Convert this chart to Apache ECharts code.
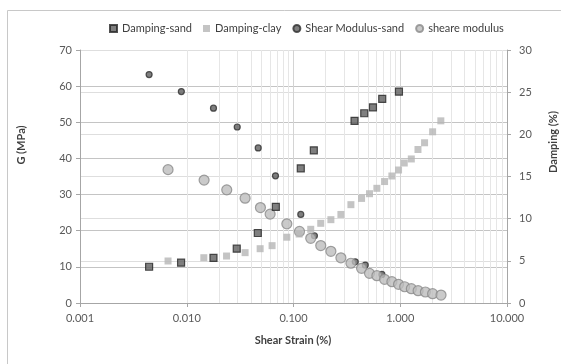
<!DOCTYPE html>
<html><head><meta charset="utf-8">
<script src="https://cdn.jsdelivr.net/npm/echarts@6/dist/echarts.min.js"></script>
<style>html,body{margin:0;padding:0;background:#fff}#c{width:561px;height:364px}</style>
</head><body><div id="c"></div>
<script>
// Damping (%) - right axis
const dampingSand = [[0.00444,4.3],[0.00885,4.78],[0.0178,5.34],[0.0294,6.44],[0.0463,8.3],[0.0683,11.4],[0.117,15.97],[0.155,18.1],[0.373,21.6],[0.46,22.5],[0.555,23.2],[0.678,24.2],[0.972,25.06]];
const dampingClay = [[0.00668,4.98],[0.01445,5.37],[0.0236,5.57],[0.0352,5.97],[0.0487,6.44],[0.063,6.8],[0.0866,7.8],[0.113,8.18],[0.145,8.74],[0.18,9.45],[0.224,9.88],[0.278,10.5],[0.345,11.66],[0.434,12.4],[0.515,12.96],[0.604,13.6],[0.713,14.4],[0.835,15.06],[0.964,15.77],[1.09,16.6],[1.27,17.08],[1.466,18.2],[1.69,19.0],[2.01,20.3],[2.40,21.6]];
// G (MPa) - left axis
const shearModulusSand = [[0.00444,63.2],[0.0089,58.5],[0.0178,53.9],[0.0297,48.7],[0.0467,42.9],[0.0678,35.2],[0.117,24.5],[0.157,18.6],[0.379,11.4],[0.47,10.5],[0.673,7.9]];
const shearModulusClay = [[0.00668,36.9],[0.01454,34.0],[0.0237,31.3],[0.0352,29.0],[0.049,26.4],[0.0604,24.6],[0.0866,21.9],[0.1138,19.8],[0.145,17.9],[0.18,15.9],[0.224,14.3],[0.278,12.5],[0.345,11.0],[0.434,9.6],[0.515,8.2],[0.604,7.55],[0.713,6.56],[0.835,5.9],[0.964,5.17],[1.1,4.5],[1.27,3.96],[1.47,3.4],[1.72,3.04],[2.01,2.57],[2.41,2.2]];
const seriesNames = ['Damping-sand','Damping-clay','Shear Modulus-sand','sheare modulus'];
const minorX = [0.002,0.003,0.004,0.005,0.006,0.007,0.008,0.009,0.02,0.03,0.04,0.05,0.06,0.07,0.08,0.09,0.2,0.3,0.4,0.5,0.6,0.7,0.8,0.9,2,3,4,5,6,7,8,9];

const FONT = 'Lato';
const chart = echarts.init(document.getElementById('c'), null, {renderer:'canvas'});
chart.setOption({
  animation:false,
  backgroundColor:'#fff',
  textStyle:{fontFamily:FONT},
  graphic:[
    {type:'rect', shape:{x:7.5,y:10.5,width:600,height:400}, style:{fill:'none',stroke:'#c8c8c8',lineWidth:1}, z:-10},
    {type:'text', x:21, y:145, rotation:Math.PI/2, style:{text:'G (MPa)', font:'bold 11px '+FONT, fill:'#404040', textAlign:'center', textVerticalAlign:'middle'}},
    {type:'text', x:553, y:142, rotation:Math.PI/2, style:{text:'Damping (%)', font:'bold 11px '+FONT, fill:'#404040', textAlign:'center', textVerticalAlign:'middle'}},
    {type:'text', x:293, y:340, style:{text:'Shear Strain (%)', font:'bold 11px '+FONT, fill:'#404040', textAlign:'center', textVerticalAlign:'middle'}}
  ],
  legend:{
    data:seriesNames, left:104, top:18, itemWidth:7, itemHeight:7, itemGap:11,
    textStyle:{fontSize:11, color:'#404040', fontFamily:FONT}
  },
  grid:{left:80, right:54, top:50, bottom:61},
  xAxis:{
    type:'log', logBase:10, min:0.001, max:10,
    axisLine:{show:true, onZero:false, lineStyle:{color:'#a6a6a6'}},
    axisTick:{show:true, inside:false, length:4, lineStyle:{color:'#a6a6a6'}},
    axisLabel:{margin:10, fontSize:11, color:'#595959', formatter:v=>Number(v).toFixed(3)},
    splitLine:{show:true, lineStyle:{color:'#d4d4d4'}}
  },
  yAxis:[
    {type:'value', min:0, max:70, interval:10, position:'left',
     axisLine:{show:true, lineStyle:{color:'#a6a6a6'}},
     axisTick:{show:true, length:4, lineStyle:{color:'#a6a6a6'}},
     axisLabel:{margin:8, fontSize:11, color:'#595959'},
     splitLine:{show:true, lineStyle:{color:'#c4c4c4'}}},
    {type:'value', min:0, max:30, interval:5, position:'right',
     axisLine:{show:true, lineStyle:{color:'#a6a6a6'}},
     axisTick:{show:true, length:4, lineStyle:{color:'#a6a6a6'}},
     axisLabel:{margin:12, fontSize:11, color:'#595959'},
     splitLine:{show:true, lineStyle:{color:'#dedede'}}}
  ],
  series:[
    {name:'minor', type:'scatter', data:[], z:1, silent:true, xAxisIndex:0, yAxisIndex:0,
     markLine:{silent:true, z:1, symbol:['none','none'], label:{show:false}, animation:false,
       lineStyle:{color:'#e6e6e6', width:1, type:'solid'},
       data:minorX.map(v=>({xAxis:v}))}},
    {name:'Shear Modulus-sand', type:'scatter', yAxisIndex:0, data:shearModulusSand, symbol:'circle', symbolSize:6, z:3,
     itemStyle:{color:'#5f5f5f', borderColor:'#2e2e2e', borderWidth:1.2}},
    {name:'sheare modulus', type:'scatter', yAxisIndex:0, data:shearModulusClay, symbol:'circle', symbolSize:10, z:4,
     itemStyle:{color:'#bdbdbd', borderColor:'#8a8a8a', borderWidth:1.2}},
    {name:'Damping-sand', type:'scatter', yAxisIndex:1, data:dampingSand, symbol:'rect', symbolSize:7, z:5,
     itemStyle:{color:'#5f5f5f', borderColor:'#262626', borderWidth:1.2}},
    {name:'Damping-clay', type:'scatter', yAxisIndex:1, data:dampingClay, symbol:'rect', symbolSize:7, z:6,
     itemStyle:{color:'#b5b5b5'}}
  ]
});
</script></body></html>
